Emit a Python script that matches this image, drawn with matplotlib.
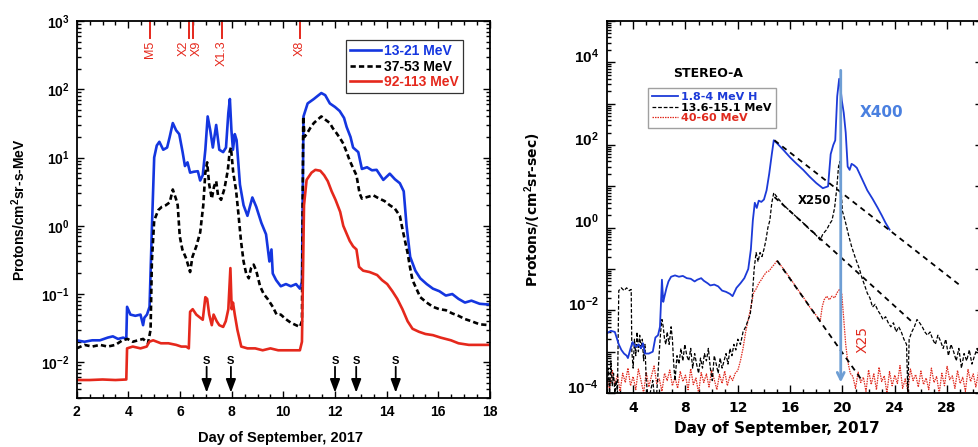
import numpy as np
import matplotlib
matplotlib.use("Agg")
from matplotlib import pyplot as plt
from matplotlib.ticker import MultipleLocator, LogLocator, FuncFormatter, NullFormatter
from matplotlib.transforms import ScaledTranslation, blended_transform_factory

plt.rcParams['font.family'] = 'Liberation Sans'
plt.rcParams['mathtext.fontset'] = 'custom'
plt.rcParams['mathtext.rm'] = 'Liberation Sans'
plt.rcParams['mathtext.bf'] = 'Liberation Sans:bold'

# ---- left panel: GOES protons, Sept 2017 ----
b_days = [2.0, 2.3, 2.6, 2.9, 3.2, 3.4, 3.6, 3.8, 3.92, 3.95, 4.08, 4.27, 4.47, 4.57, 4.62, 4.72, 4.82, 4.91,
          5.0, 5.1, 5.2, 5.35, 5.5, 5.6, 5.72, 5.85, 5.97, 6.1, 6.19, 6.29, 6.39, 6.54, 6.69, 6.78, 6.88, 6.98,
          7.07, 7.17, 7.27, 7.4, 7.52, 7.67, 7.78, 7.87, 7.93, 7.99, 8.05, 8.12, 8.19, 8.32, 8.46, 8.61, 8.8,
          8.95, 9.15, 9.33, 9.46, 9.54, 9.59, 9.72, 9.9, 10.1, 10.29, 10.49, 10.64, 10.72, 10.78, 10.94, 11.18,
          11.33, 11.47, 11.62, 11.8, 12.0, 12.18, 12.35, 12.45, 12.6, 12.7, 12.9, 13.04, 13.24, 13.43, 13.61,
          13.87, 14.12, 14.32, 14.51, 14.66, 14.77, 14.91, 15.11, 15.3, 15.55, 15.79, 16.04, 16.29, 16.54,
          16.78, 17.03, 17.28, 17.6, 18.0]
b_flux = [0.021, 0.020, 0.021, 0.021, 0.023, 0.024, 0.022, 0.023, 0.022, 0.065, 0.05, 0.048, 0.05, 0.035, 0.045,
          0.05, 0.065, 0.9, 10, 15, 17, 13, 14, 20, 32, 25, 22, 12, 7.5, 8.5, 6, 6.2, 6.3, 4.6, 5.5, 13, 40, 25,
          14, 30, 13, 12, 14, 45, 72, 25, 13, 22, 18, 4, 2, 1.4, 2.6, 1.9, 1.1, 0.75, 0.3, 0.45, 0.2, 0.16, 0.13,
          0.14, 0.13, 0.14, 0.12, 0.15, 40, 62, 72, 80, 88, 82, 62, 55, 48, 38, 28, 20, 14, 12, 6.8, 7.2, 6.5,
          6.6, 4.7, 5.8, 4.8, 4.2, 3.2, 1.0, 0.35, 0.22, 0.17, 0.14, 0.12, 0.11, 0.095, 0.1, 0.085, 0.075, 0.08,
          0.072, 0.07]

k_days = [2.0, 2.3, 2.6, 2.9, 3.2, 3.5, 3.77, 3.97, 4.17, 4.37, 4.57, 4.76, 4.86, 4.91, 5.0, 5.16, 5.3, 5.45,
          5.6, 5.72, 5.84, 5.91, 5.99, 6.09, 6.24, 6.39, 6.48, 6.63, 6.78, 6.9, 6.98, 7.05, 7.13, 7.23, 7.32,
          7.4, 7.47, 7.59, 7.72, 7.85, 7.92, 7.97, 8.06, 8.17, 8.26, 8.36, 8.46, 8.56, 8.66, 8.75, 8.85, 8.95,
          9.1, 9.24, 9.39, 9.59, 9.74, 9.9, 10.09, 10.29, 10.49, 10.64, 10.72, 10.77, 10.82, 10.9, 11.04, 11.18,
          11.33, 11.47, 11.62, 11.8, 11.91, 12.05, 12.2, 12.32, 12.45, 12.57, 12.7, 12.83, 12.95, 13.04, 13.19,
          13.34, 13.48, 13.63, 13.72, 13.92, 14.12, 14.31, 14.51, 14.61, 14.71, 14.81, 14.9, 15.0, 15.15, 15.3,
          15.55, 15.79, 16.04, 16.29, 16.54, 16.78, 17.03, 17.28, 17.6, 18.0]
k_flux = [0.016, 0.018, 0.017, 0.018, 0.017, 0.018, 0.021, 0.022, 0.02, 0.021, 0.022, 0.019, 0.03, 0.3, 1.2,
          1.7, 1.9, 2.0, 2.2, 3.4, 2.5, 2.0, 0.7, 0.45, 0.33, 0.21, 0.35, 0.5, 0.8, 2.0, 6, 8.5, 4, 2.5, 3.8,
          4.5, 2.8, 2.4, 3.5, 6.5, 12, 14, 6, 3.3, 1.5, 0.6, 0.3, 0.2, 0.17, 0.24, 0.27, 0.22, 0.13, 0.1, 0.085,
          0.065, 0.05, 0.05, 0.043, 0.038, 0.035, 0.033, 0.04, 40, 20, 22, 27, 32, 36, 40, 36, 32, 27, 23, 19,
          16, 12, 9, 7, 5.5, 3, 2.5, 2.6, 2.7, 2.8, 2.6, 2.5, 2.3, 2.0, 1.8, 1.4, 0.9, 0.6, 0.4, 0.25, 0.16,
          0.12, 0.09, 0.075, 0.065, 0.06, 0.058, 0.052, 0.048, 0.043, 0.04, 0.036, 0.035]

r_days = [2.0, 2.5, 3.0, 3.5, 3.92, 3.95, 4.17, 4.47, 4.71, 4.81, 4.96, 5.26, 5.55, 5.85, 6.05, 6.24, 6.34,
          6.39, 6.49, 6.63, 6.78, 6.88, 6.98, 7.05, 7.13, 7.23, 7.3, 7.42, 7.52, 7.67, 7.77, 7.87, 7.95, 8.0,
          8.05, 8.12, 8.22, 8.37, 8.61, 8.91, 9.2, 9.5, 9.8, 10.09, 10.39, 10.64, 10.72, 10.8, 10.9, 11.09,
          11.24, 11.43, 11.58, 11.72, 11.87, 12.02, 12.2, 12.32, 12.46, 12.57, 12.7, 12.83, 12.93, 13.09, 13.34,
          13.63, 13.82, 14.02, 14.22, 14.41, 14.61, 14.81, 15.0, 15.25, 15.5, 15.79, 16.09, 16.49, 16.78, 17.18,
          17.5, 18.0]
r_flux = [0.0055, 0.0055, 0.0056, 0.0055, 0.0056, 0.016, 0.017, 0.016, 0.017, 0.02, 0.021, 0.019, 0.019,
          0.018, 0.017, 0.017, 0.016, 0.055, 0.06, 0.05, 0.045, 0.042, 0.09, 0.085, 0.05, 0.035, 0.05, 0.04,
          0.035, 0.033, 0.04, 0.06, 0.24, 0.06, 0.075, 0.05, 0.03, 0.017, 0.016, 0.016, 0.015, 0.016, 0.015,
          0.015, 0.015, 0.015, 0.02, 2.0, 4.7, 6.0, 6.6, 6.4, 5.5, 4.5, 3.2, 2.4, 1.6, 1.0, 0.75, 0.6, 0.5, 0.45,
          0.25, 0.22, 0.21, 0.19, 0.16, 0.14, 0.11, 0.085, 0.06, 0.04, 0.031, 0.028, 0.026, 0.025, 0.023, 0.021,
          0.019, 0.018, 0.018, 0.018]

flare_days = [4.84, 6.35, 6.51, 7.63, 10.65]
flare_names = ["M5", "X2", "X9", "X1.3", "X8"]
shock_days = [7.03, 7.97, 12.0, 12.82, 14.35]

# ---- right panel: STEREO-A ----
sb_days = [2.0, 2.3, 2.6, 2.9, 3.1, 3.3, 3.5, 3.6, 3.8, 3.95, 4.2, 4.4, 4.6, 4.75, 4.9, 5.2, 5.5, 5.7, 5.9,
           6.05, 6.2, 6.3, 6.4, 6.55, 6.7, 6.9, 7.2, 7.5, 7.8, 8.1, 8.4, 8.7, 8.9, 9.2, 9.4, 9.7, 9.9, 10.2,
           10.5, 10.8, 11.1, 11.4, 11.6, 11.9, 12.2, 12.5, 12.8, 13.0, 13.15, 13.3, 13.45, 13.6, 13.8, 14.0,
           14.2, 14.4, 14.6, 14.75, 15.0, 15.5, 16.0, 16.5, 17.0, 17.5, 18.0, 18.5, 18.9, 19.1, 19.3, 19.45,
           19.6, 19.75, 19.85, 19.95, 20.1, 20.25, 20.4, 20.55, 20.7, 20.9, 21.1, 21.5, 21.9, 22.3, 22.7, 23.0,
           23.3, 23.6]
sb_flux = [0.0028, 0.0032, 0.003, 0.0015, 0.0011, 0.0009, 0.0008, 0.0007, 0.0012, 0.0017, 0.0013, 0.0015,
           0.0012, 0.0016, 0.0009, 0.0009, 0.001, 0.0022, 0.0025, 0.004, 0.055, 0.016, 0.022, 0.035, 0.05,
           0.065, 0.07, 0.065, 0.068, 0.06, 0.058, 0.05, 0.055, 0.06, 0.052, 0.045, 0.04, 0.042, 0.038, 0.03,
           0.028, 0.025, 0.022, 0.035, 0.045, 0.06, 0.1, 0.3, 1.5, 4.0, 3.0, 4.5, 4.2, 4.8, 8, 20, 60, 130, 110,
           75, 50, 35, 25, 17, 12, 9, 10, 60, 100, 130, 1500, 4000, 2500, 1200, 600, 200, 30, 25, 35, 32, 28, 15,
           8, 5, 3, 2, 1.3, 0.9]

sk_days = [2.0, 2.1, 2.2, 2.3, 2.4, 2.5, 2.6, 2.7, 2.8, 2.9, 3.1, 3.3, 3.5, 3.7, 3.85, 3.9, 4.0, 4.1, 4.2,
           4.3, 4.4, 4.5, 4.6, 4.7, 4.8, 4.9, 5.0, 5.1, 5.3, 5.5, 5.6, 5.8, 5.9, 6.0, 6.1, 6.2, 6.3, 6.4, 6.5,
           6.6, 6.75, 6.9, 7.0, 7.1, 7.2, 7.35, 7.5, 7.65, 7.8, 7.95, 8.1, 8.25, 8.4, 8.55, 8.7, 8.85, 9.0, 9.15,
           9.3, 9.45, 9.6, 9.75, 9.9, 10.05, 10.2, 10.35, 10.5, 10.65, 10.8, 10.95, 11.1, 11.25, 11.4, 11.55,
           11.7, 11.85, 12.0, 12.2, 12.4, 12.6, 12.8, 12.95, 13.1, 13.25, 13.4, 13.55, 13.7, 13.85, 14.0, 14.15,
           14.3, 14.45, 14.6, 14.75, 15.0, 15.5, 16.0, 16.5, 17.0, 17.5, 18.0, 18.3, 18.5, 18.8, 19.0, 19.2,
           19.4, 19.55, 19.7, 19.8, 19.9, 20.0, 20.2, 20.5, 20.7, 21.0, 21.3, 21.5, 21.7, 21.9, 22.1, 22.3, 22.5,
           22.7, 22.9, 23.1, 23.3, 23.5, 23.7, 23.9, 24.1, 24.3, 24.5, 24.7, 24.9, 25.0, 25.1, 25.3, 25.5, 25.7,
           25.9, 26.1, 26.3, 26.5, 26.7, 26.9, 27.1, 27.3, 27.5, 27.7, 27.9, 28.1, 28.3, 28.5, 28.7, 28.9, 29.1,
           29.3, 29.5, 29.7, 29.9, 30.1, 30.3, 30.5, 30.7]
sk_flux = [1e-4, 4e-4, 1e-4, 6e-4, 1.5e-4, 3e-4, 1e-4, 2e-4, 1e-4, 0.03, 0.035, 0.03, 0.035, 0.03, 0.032,
           0.001, 4e-4, 0.002, 8e-4, 0.003, 0.001, 0.0025, 0.0012, 0.002, 6e-4, 0.0015, 2e-4, 1e-4, 1e-4, 2e-4,
           1e-4, 1e-4, 3e-4, 0.001, 0.003, 0.006, 0.004, 0.002, 0.0015, 0.003, 0.0015, 0.004, 0.002, 5e-4,
           2e-4, 8e-4, 5e-4, 0.0012, 6e-4, 0.0015, 8e-4, 6e-4, 0.0012, 4e-4, 9e-4, 5e-4, 3e-4, 7e-4, 4e-4,
           9e-4, 6e-4, 0.0012, 4e-4, 2e-4, 8e-4, 5e-4, 3e-4, 7e-4, 4e-4, 6e-4, 9e-4, 5e-4, 0.0012, 8e-4, 0.0015,
           0.0011, 0.002, 0.0015, 0.003, 0.004, 0.006, 0.008, 0.02, 0.1, 0.25, 0.15, 0.25, 0.2, 0.3, 0.5, 1.0,
           1.5, 4.0, 7, 5.5, 3.5, 2.5, 1.8, 1.3, 0.9, 0.65, 0.5, 0.7, 0.9, 1.2, 1.5, 3, 8, 30, 40, 8, 2.5, 1.5,
           0.6, 0.35, 0.18, 0.1, 0.06, 0.04, 0.026, 0.02, 0.012, 0.014, 0.01, 0.008, 0.006, 0.007, 0.005, 0.004,
           0.005, 0.003, 0.004, 0.003, 0.002, 0.0015, 1e-4, 0.002, 0.003, 0.004, 0.006, 0.005, 0.004, 0.003,
           0.0025, 0.003, 0.002, 0.0015, 0.0025, 0.0018, 0.0012, 0.002, 8e-4, 0.0015, 0.001, 6e-4, 0.0012, 4e-4,
           9e-4, 6e-4, 0.0011, 5e-4, 8e-4, 0.0012, 7e-4, 0.001]

sr_quiet1 = [2.2e-4, 1.2e-4, 3.5e-4, 1.6e-4, 2.8e-4, 1.1e-4, 3.0e-4, 1.8e-4, 4.0e-4, 1.5e-4, 2.5e-4, 1.2e-4,
             3.8e-4, 2.0e-4, 1.0e-4, 3.2e-4, 1.4e-4, 2.6e-4, 4.5e-4, 1.7e-4, 2.2e-4, 1.1e-4, 3.0e-4, 2.0e-4,
             3.6e-4, 1.5e-4, 2.4e-4, 1.3e-4, 3.3e-4, 1.9e-4, 2.7e-4, 1.2e-4, 3.9e-4, 1.6e-4, 2.3e-4, 1.0e-4,
             3.1e-4, 1.8e-4, 2.9e-4, 1.4e-4, 3.5e-4, 2.1e-4, 1.2e-4, 2.8e-4, 1.7e-4, 3.4e-4, 1.5e-4, 2.6e-4,
             2.0e-4, 3.0e-4]
sr_event_days = [12.0, 12.2, 12.4, 12.6, 12.8, 13.0, 13.2, 13.4, 13.6, 13.8, 14.0, 14.2, 14.4, 14.6, 14.8,
                 15.0, 15.5, 16.0, 16.5, 17.0, 17.5, 18.0, 18.3, 18.45, 18.6, 18.8, 19.0, 19.2, 19.4, 19.6,
                 19.8, 19.95, 20.1, 20.25, 20.4, 20.6]
sr_event = [3.5e-4, 6e-4, 1.2e-3, 3e-3, 6e-3, 1.2e-2, 2.6e-2, 3.3e-2, 4.5e-2, 5.5e-2, 7e-2, 8.5e-2, 9e-2,
            0.11, 0.13, 0.16, 0.1, 0.06, 0.035, 0.021, 0.012, 0.0075, 0.0055, 0.012, 0.018, 0.022, 0.018,
            0.022, 0.02, 0.027, 0.033, 0.025, 0.006, 0.0015, 6e-4, 3e-4]
sr_quiet2 = [2.5e-4, 1.3e-4, 3.2e-4, 1.8e-4, 2.4e-4, 1.1e-4, 3.6e-4, 1.6e-4, 2.9e-4, 1.2e-4, 4.2e-4, 1.9e-4,
             2.6e-4, 1.0e-4, 3.3e-4, 1.5e-4, 2.7e-4, 1.7e-4, 4.6e-4, 1.3e-4, 2.2e-4, 1.1e-4, 3.8e-4, 2.0e-4,
             2.8e-4, 1.4e-4, 3.4e-4, 1.6e-4, 2.3e-4, 1.2e-4, 4.0e-4, 1.8e-4, 2.5e-4, 1.0e-4, 3.0e-4, 1.5e-4,
             4.4e-4, 2.1e-4, 2.6e-4, 1.3e-4, 3.5e-4, 1.7e-4, 2.4e-4, 1.1e-4, 3.7e-4, 1.9e-4, 2.9e-4, 1.4e-4,
             3.2e-4, 2.0e-4]
sr_days = list(np.round(np.arange(2.0, 11.9, 0.2), 1)) + sr_event_days + list(np.round(np.arange(20.8, 30.7, 0.2), 1))
sr_flux = sr_quiet1 + sr_event + sr_quiet2

# exponential decay fits (start/end of each dashed line)
fit_days = [[14.8, 29.0], [14.8, 25.4], [15.0, 21.5]]
fit_flux = [[130, 0.04], [5.5, 0.005], [0.16, 2e-4]]

BLUE = "#1436e0"
RED = "#e5281c"

fig = plt.figure(figsize=(9.79, 4.47), dpi=100)

# ================= left =================
ax = fig.add_axes([76.7/979, 1-398/447, 413.3/979, 377/447])
ax.plot(b_days, b_flux, color=BLUE, lw=1.9, label="13-21 MeV")
ax.plot(k_days, k_flux, color="k", lw=1.9, ls=(0, (2.0, 1.2)), label="37-53 MeV")
ax.plot(r_days, r_flux, color=RED, lw=1.9, label="92-113 MeV")
ax.set_yscale("log")
ax.set_xlim(2, 18)
ax.set_ylim(3.0e-3, 1e3)
ax.xaxis.set_major_locator(MultipleLocator(2))
ax.xaxis.set_minor_locator(MultipleLocator(0.5))
ax.yaxis.set_major_locator(LogLocator(base=10, numticks=20))
ax.yaxis.set_minor_locator(LogLocator(base=10, subs=np.arange(2, 10), numticks=20))
ax.yaxis.set_minor_formatter(NullFormatter())
ax.yaxis.set_major_formatter(FuncFormatter(lambda v, p: r"$\mathbf{10^{%d}}$" % round(np.log10(v))))
ax.tick_params(which="both", direction="in", top=True, right=True, width=1.0)
ax.tick_params(which="major", length=5, labelsize=10, pad=5)
ax.tick_params(which="minor", length=3)
for lab in ax.get_xticklabels():
    lab.set_fontweight("bold")
for sp in ax.spines.values():
    sp.set_linewidth(1.3)

leg = ax.legend(loc="upper right", bbox_to_anchor=(0.952, 0.968), fancybox=False, edgecolor="k",
                handlelength=2.2, handletextpad=0.25, labelspacing=0.1, borderpad=0.3,
                labelcolor="linecolor", prop=dict(weight="bold", size=10))
leg.get_frame().set_linewidth(0.9)

tr = blended_transform_factory(ax.transData, ax.transAxes)
label_shift = [0, -5, 4, 0, 0]
for d, name, dx in zip(flare_days, flare_names, label_shift):
    ax.plot([d, d], [1.0, 0.955], transform=tr, color=RED, lw=1.4, clip_on=False)
    ax.text(d, 0.948, name, transform=tr + ScaledTranslation(dx/100, 0, fig.dpi_scale_trans),
            rotation=90, ha="center", va="top", color=RED, fontsize=9)

for d in shock_days:
    ax.annotate("", xy=(d, 3.6e-3), xytext=(d, 8.6e-3),
                arrowprops=dict(arrowstyle="-|>,head_length=0.8,head_width=0.3", color="k", lw=1.3,
                                shrinkA=0, shrinkB=0))
    ax.text(d, 1.05e-2, "S", ha="center", va="center", fontsize=8, fontweight="bold")

fig.text(19/979, 1-210/447, "Protons/cm$^\\mathbf{2}$sr-s-MeV", rotation=90, ha="center", va="center",
         fontsize=10, fontweight="bold")
fig.text(280/979, 1-438/447, "Day of September, 2017", ha="center", va="center", fontsize=10.5,
         fontweight="bold")

# ================= right =================
ax2 = fig.add_axes([607/979, 1-393/447, 376/979, 372/447])
ax2.plot(sr_days, sr_flux, color="#e02a1e", lw=0.9, ls=(0, (1.2, 0.8)), label="40-60 MeV")
ax2.plot(sk_days, sk_flux, color="k", lw=0.9, ls=(0, (3, 1.5)), label="13.6-15.1 MeV")
ax2.plot(sb_days, sb_flux, color="#1c3ad8", lw=1.3, label="1.8-4 MeV H")
for fd, ff in zip(fit_days, fit_flux):
    ax2.plot(fd, ff, color="k", lw=1.3, ls=(0, (3, 2.5)))
ax2.set_yscale("log")
ax2.set_xlim(2, 2 + 376/13.08)
ax2.set_ylim(1e-4, 1e5)
ax2.xaxis.set_major_locator(MultipleLocator(4))
ax2.xaxis.set_minor_locator(MultipleLocator(1))
ax2.yaxis.set_major_locator(LogLocator(base=10, numticks=20))
ax2.yaxis.set_minor_locator(LogLocator(base=10, subs=np.arange(2, 10), numticks=20))
ax2.yaxis.set_minor_formatter(NullFormatter())
ax2.yaxis.set_major_formatter(FuncFormatter(
    lambda v, p: r"$\mathbf{10^{%d}}$" % round(np.log10(v)) if round(np.log10(v)) % 2 == 0 else ""))
ax2.tick_params(which="both", direction="in", top=True, right=True, width=1.0)
ax2.tick_params(which="major", length=6, labelsize=11, pad=6)
ax2.tick_params(which="minor", length=3)
for lab in ax2.get_xticklabels():
    lab.set_fontweight("bold")
    lab.set_fontfamily("DejaVu Sans")
    lab.set_fontsize(10)
for lab in ax2.get_yticklabels():
    lab.set_transform(lab.get_transform() + ScaledTranslation(0, 7/100, fig.dpi_scale_trans))
for sp in ax2.spines.values():
    sp.set_linewidth(1.3)

h, l = ax2.get_legend_handles_labels()
leg2 = ax2.legend(h[::-1], l[::-1], loc="upper left", bbox_to_anchor=(0.093, 0.836), fancybox=False,
                  edgecolor="#888888", handlelength=2.3, handletextpad=0.3, labelspacing=0.05,
                  borderpad=0.4, labelcolor="linecolor",
                  prop=dict(family="DejaVu Sans", weight="bold", size=8))
leg2.get_frame().set_linewidth(1.0)
ax2.text(0.269, 0.842, "STEREO-A", transform=ax2.transAxes, ha="center", va="bottom",
         family="DejaVu Sans", fontweight="bold", fontsize=9)

ax2.annotate("", xy=(19.87, 1.8e-4), xytext=(19.87, 6400),
             arrowprops=dict(arrowstyle="->,head_length=0.5,head_width=0.25", color="#6e9ed4", lw=2.0,
                             shrinkA=0, shrinkB=0))
ax2.text(21.3, 600, "X400", color="#4a80e0", fontsize=11, fontweight="bold", family="DejaVu Sans",
         ha="left", va="center")
ax2.text(17.9, 4.6, "X250", color="k", fontsize=8.5, fontweight="bold", family="DejaVu Sans",
         ha="center", va="center")
ax2.text(21.57, 2.0e-3, "X25", color="#e02a1e", fontsize=10, family="DejaVu Sans", rotation=90,
         ha="center", va="center")

fig.text(533/979, 1-210/447, "Protons/(cm$^\\mathbf{2}$sr-sec)", rotation=90, ha="center", va="center",
         fontsize=10, fontweight="bold", family="DejaVu Sans")
fig.text(777/979, 1-428/447, "Day of September, 2017", ha="center", va="center", fontsize=11,
         fontweight="bold", family="DejaVu Sans")

fig.savefig("out.png", dpi=100)
